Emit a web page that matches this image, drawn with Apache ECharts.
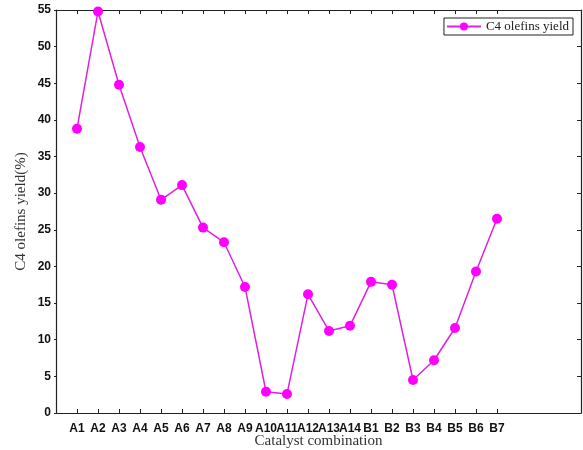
<!DOCTYPE html>
<html><head><meta charset="utf-8">
<script src="https://cdn.jsdelivr.net/npm/echarts@6/dist/echarts.min.js"></script>
<style>html,body{margin:0;padding:0;background:#fff}#c{width:583px;height:450px}</style>
</head><body><div id="c"></div>
<script>
const categories = ['A1','A2','A3','A4','A5','A6','A7','A8','A9','A10','A11','A12','A13','A14','B1','B2','B3','B4','B5','B6','B7'];
const yieldValues = [38.8,54.8,44.8,36.3,29.1,31.1,25.3,23.3,17.2,2.9,2.6,16.2,11.2,11.9,17.9,17.5,4.5,7.2,11.6,19.3,26.5];
const yTicks = [0,5,10,15,20,25,30,35,40,45,50,55];
const seriesName = 'C4 olefins yield';

const positions = categories.map((c,i)=>i+1);
const data = yieldValues.map((v,i)=>[positions[i], v]);
const axisColor = '#222';
const serif = 'Liberation Serif, DejaVu Serif, serif';
const sans = 'Liberation Sans, Arial, sans-serif';
const chart = echarts.init(document.getElementById('c'));
chart.setOption({
  animation:false,
  backgroundColor:'#fff',
  grid:{left:56,right:2,top:10,bottom:37,outerBoundsMode:'none',containLabel:false},
  legend:{
    right:10, top:18, orient:'horizontal',
    data:[seriesName],
    borderColor:'#222', borderWidth:1, padding:[2,4,2,2],
    itemWidth:34, itemHeight:10, itemGap:4,
    textStyle:{fontFamily:serif, fontSize:13, color:'#222'}
  },
  xAxis:[{
    type:'value', min:0, max:25,
    name:'Catalyst combination', nameLocation:'middle', nameGap:21, nameMoveOverlap:false,
    nameTextStyle:{fontFamily:serif, fontSize:15, color:'#333'},
    axisLine:{onZero:false,lineStyle:{color:axisColor,width:1.2}},
    axisTick:{inside:true,length:4,customValues:positions,lineStyle:{color:axisColor}},
    axisLabel:{customValues:positions, formatter:v=>categories[v-1]||'', fontFamily:sans, fontWeight:'bold', fontSize:12, color:'#111', margin:10},
    splitLine:{show:false}
  },{
    type:'value', min:0, max:25, position:'top',
    axisLine:{show:true,onZero:false,lineStyle:{color:axisColor,width:1.2}},
    axisTick:{show:true,inside:true,length:4,customValues:positions,lineStyle:{color:axisColor}},
    axisLabel:{show:false}, splitLine:{show:false}
  }],
  yAxis:[{
    type:'value', min:0, max:55, interval:5,
    name:'C4 olefins yield(%)', nameLocation:'middle', nameGap:27, nameMoveOverlap:false,
    nameTextStyle:{fontFamily:serif, fontSize:15, color:'#333'},
    axisLine:{show:true,onZero:false,lineStyle:{color:axisColor,width:1.2}},
    axisTick:{show:true,inside:false,length:2,lineStyle:{color:axisColor}},
    axisLabel:{fontFamily:sans, fontWeight:'bold', fontSize:12, color:'#111', margin:5},
    splitLine:{show:false}
  },{
    type:'value', min:0, max:55, interval:5, position:'right',
    axisLine:{show:true,onZero:false,lineStyle:{color:axisColor,width:1.2}},
    axisTick:{show:true,inside:true,length:4,lineStyle:{color:axisColor}},
    axisLabel:{show:false}, splitLine:{show:false}
  }],
  series:[{
    name:seriesName, type:'line', data:data,
    symbol:'circle', symbolSize:10,
    itemStyle:{color:'#ff00ff'},
    lineStyle:{color:'#e020e0', width:1.5}
  }]
});
</script></body></html>
